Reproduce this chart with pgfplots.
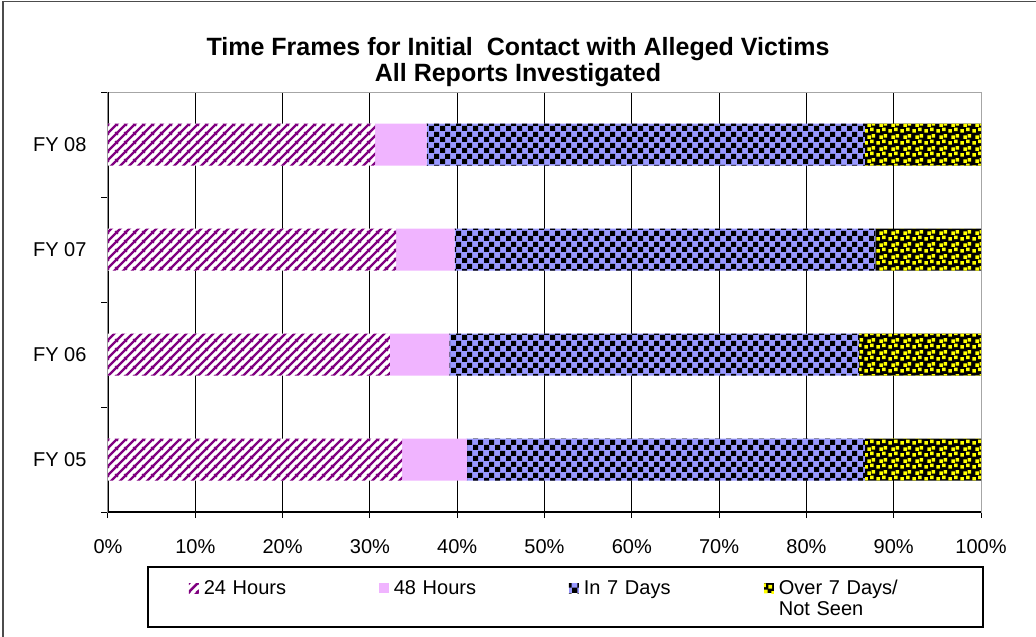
\documentclass[border=0pt]{standalone}
\usepackage{pgfplots}
\pgfplotsset{compat=1.18}
\usepackage{fontspec}
\setmainfont{Liberation Sans}
\usetikzlibrary{patterns}

\definecolor{stripe}{RGB}{128,0,128}
\definecolor{pinkb}{RGB}{240,180,255}
\definecolor{checkblue}{RGB}{153,153,255}
\definecolor{dotyel}{RGB}{255,255,0}

% diagonal stripes, 9pt period
\pgfdeclarepatternformonly{diagstripe}{\pgfpointorigin}{\pgfqpoint{9pt}{9pt}}{\pgfqpoint{9pt}{9pt}}{%
  \pgfsetlinewidth{2.6pt}%
  \pgfpathmoveto{\pgfqpoint{-1pt}{-1pt}}\pgfpathlineto{\pgfqpoint{10pt}{10pt}}%
  \pgfpathmoveto{\pgfqpoint{-1pt}{8pt}}\pgfpathlineto{\pgfqpoint{1pt}{10pt}}%
  \pgfpathmoveto{\pgfqpoint{8pt}{-1pt}}\pgfpathlineto{\pgfqpoint{10pt}{1pt}}%
  \pgfusepath{stroke}}
% checker squares
\pgfdeclarepatternformonly{bigcheck}{\pgfpointorigin}{\pgfqpoint{11pt}{11pt}}{\pgfqpoint{11pt}{11pt}}{%
  \pgfpathrectangle{\pgfpointorigin}{\pgfqpoint{5.5pt}{5.5pt}}%
  \pgfpathrectangle{\pgfqpoint{5.5pt}{5.5pt}}{\pgfqpoint{5.5pt}{5.5pt}}%
  \pgfusepath{fill}}
% scattered yellow dots
\pgfdeclarepatternformonly{ydots}{\pgfpointorigin}{\pgfqpoint{12pt}{12pt}}{\pgfqpoint{12pt}{12pt}}{%
  \pgfpathrectangle{\pgfqpoint{0.5pt}{0.5pt}}{\pgfqpoint{3.8pt}{3.8pt}}%
  \pgfpathrectangle{\pgfqpoint{6.5pt}{2pt}}{\pgfqpoint{3.8pt}{3.8pt}}%
  \pgfpathrectangle{\pgfqpoint{3.5pt}{6.5pt}}{\pgfqpoint{3.8pt}{3.8pt}}%
  \pgfpathrectangle{\pgfqpoint{8.2pt}{8pt}}{\pgfqpoint{3.8pt}{3.8pt}}%
  \pgfusepath{fill}}

\pgfplotstableread{
y  h24  h48  d7   over
1  33.7 7.4  45.6 13.3
2  32.3 6.8  46.9 14.0
3  33.0 6.7  48.2 12.1
4  30.6 5.9  50.2 13.3
}\datatable

\begin{document}
\begin{tikzpicture}
\useasboundingbox (-108pt,-125pt) rectangle (928pt,512pt);
\begin{axis}[
  scale only axis, width=873pt, height=420pt,
  xbar stacked, bar width=0.4,
  xmin=0, xmax=100, ymin=0.5, ymax=4.5,
  xtick={0,10,...,100},
  xticklabels={0\%,10\%,20\%,30\%,40\%,50\%,60\%,70\%,80\%,90\%,100\%},
  ytick={1,2,3,4},
  yticklabels={FY 05,FY 06,FY 07,FY 08},
  minor ytick={0.5,1.5,2.5,3.5,4.5},
  tick align=outside, tick pos=left,
  major tick length=6pt, minor tick length=7pt,
  major y tick style={draw=none},
  minor y tick style={black, line width=1pt},
  major x tick style={black, line width=1pt},
  tick label style={font=\fontsize{20}{24}\selectfont, text=black},
  xticklabel style={yshift=-18pt},
  yticklabel style={xshift=-12pt},
  xmajorgrids, grid style={black, line width=1pt},
  axis line style={gray!70, line width=1pt},
  legend style={at={(0.058,-0.143)}, anchor=north west, draw=none, fill=none,
    font=\fontsize{20}{21}\selectfont, inner xsep=30pt, inner ysep=6pt,
    /tikz/every odd column/.append style={column sep=3pt}},
  legend columns=4, legend cell align=left,
  legend image code/.code={\path[#1] (0pt,-5pt) rectangle (10pt,5pt);},
]
\addplot[fill=white, draw=none, postaction={pattern color=stripe, pattern=diagstripe}]
  table[x=h24, y=y] {\datatable};
\addlegendentry[text width=173pt, align=left]{24 Hours}
\addplot[fill=pinkb, draw=none] table[x=h48, y=y] {\datatable};
\addlegendentry[text width=173pt, align=left]{48 Hours}
\addplot[fill=checkblue, draw=none, postaction={pattern color=black, pattern=bigcheck}]
  table[x=d7, y=y] {\datatable};
\addlegendentry[text width=178pt, align=left]{In 7 Days}
\addplot[fill=black, draw=none, postaction={pattern color=dotyel, pattern=ydots}]
  table[x=over, y=y] {\datatable};
\addlegendentry[text width=180pt, align=left]{Over 7 Days/\\Not Seen}
\draw[black, line width=1.5pt] (rel axis cs:0,1) -- (rel axis cs:0,0) -- (rel axis cs:1,0);
\end{axis}
% legend frame
\draw[black, line width=1.5pt] (40pt,-55pt) rectangle (875pt,-115pt);
\node[font=\bfseries\fontsize{25}{26}\selectfont, align=center] at (410pt,450pt)
  {Time Frames for Initial~ Contact with Alleged Victims\\All Reports Investigated};
\draw[gray!60!black, line width=1.5pt] (-105pt,-125pt) -- (-105pt,510.5pt) -- (928pt,510.5pt);
\end{tikzpicture}
\end{document}
